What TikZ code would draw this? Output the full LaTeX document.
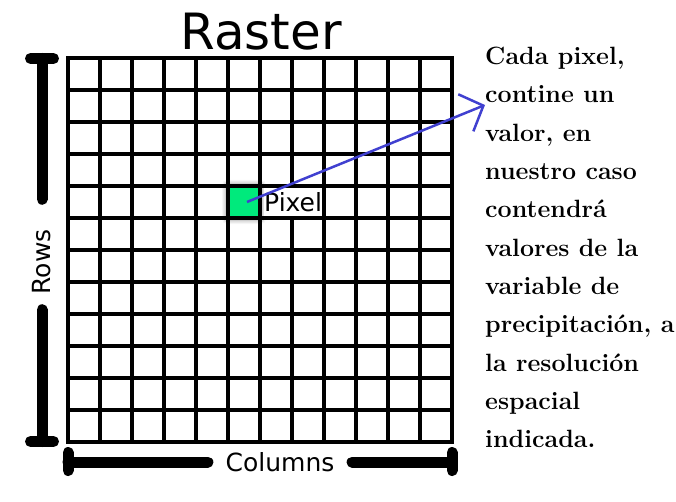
\documentclass[tikz,border=0pt]{standalone}
\usepackage{fontspec}
\newfontfamily\labfont{DejaVu Sans}
\usetikzlibrary{arrows.meta, positioning, shadows.blur}
\definecolor{pixGreen}{HTML}{00EA7C}
\definecolor{arrowBlue}{HTML}{4040D0}

\begin{document}
\begin{tikzpicture}[x=1pt, y=-1pt,
  gridline/.style={line width=3.2pt, line cap=rect},
  bar/.style={line width=11pt, line cap=round},
  lab/.style={font=\labfont\fontsize{25}{30}\selectfont, inner sep=0pt},
  pixbox/.style={fill=pixGreen, draw=pixGreen!55!black, line width=2pt,
    minimum size=31pt, inner sep=0pt,
    blur shadow={shadow xshift=0pt, shadow yshift=0pt, shadow blur radius=5pt,
      shadow opacity=60, shadow scale=1.08}},
  note/.style={font=\bfseries\fontsize{25}{38.3}\selectfont, align=left, inner sep=0pt},
  arr/.style={-{Straight Barb[length=19pt, width=40pt]}, line width=2.5pt, arrowBlue}
]
\useasboundingbox (0,0) rectangle (676,502);
% pixel cell (row 5, column 6)
\node[pixbox] (pix) at (244,202) {};
% grid
\foreach \i in {0,...,12}
  \draw[gridline] (68+32*\i,58) -- (68+32*\i,442);
\node[lab, anchor=west, fill=white, minimum height=28pt] (pixlab) at (264,202) {Pixel};
\foreach \i in {0,...,12}
  \draw[gridline] (68,58+32*\i) -- (452,58+32*\i);
\node[lab, font=\labfont\fontsize{50}{60}\selectfont, anchor=base] (title) at (261,50) {Raster};
% rows bar
\node[lab, rotate=90] (rows) at (42,262) {Rows};
\draw[bar] (30.5,58.5) -- (53.5,58.5);
\draw[bar] (30.5,441.5) -- (53.5,441.5);
\draw[bar, shorten >=30pt] (42,58.5) -- (rows.east);
\draw[bar, shorten <=15pt] (rows.west) -- (42,441.5);
% columns bar
\node[lab] (cols) at (280,462) {Columns};
\draw[bar] (68,452.5) -- (68,470.5);
\draw[bar] (452,452.5) -- (452,470.5);
\draw[bar, shorten >=17.5pt] (68,462) -- (cols.west);
\draw[bar, shorten <=17.5pt] (cols.east) -- (452,462);
% explanation
\node[note, anchor=north west] (note) at (485,47) {Cada pixel,\\contine un\\valor, en\\nuestro caso\\contendr\'a\\valores de la\\variable de\\precipitaci\'on, a\\la resoluci\'on\\espacial\\indicada.};
\coordinate (tip) at (485,105);
\draw[arr] ([xshift=3pt]pix.center) -- (tip);
\end{tikzpicture}
\end{document}
